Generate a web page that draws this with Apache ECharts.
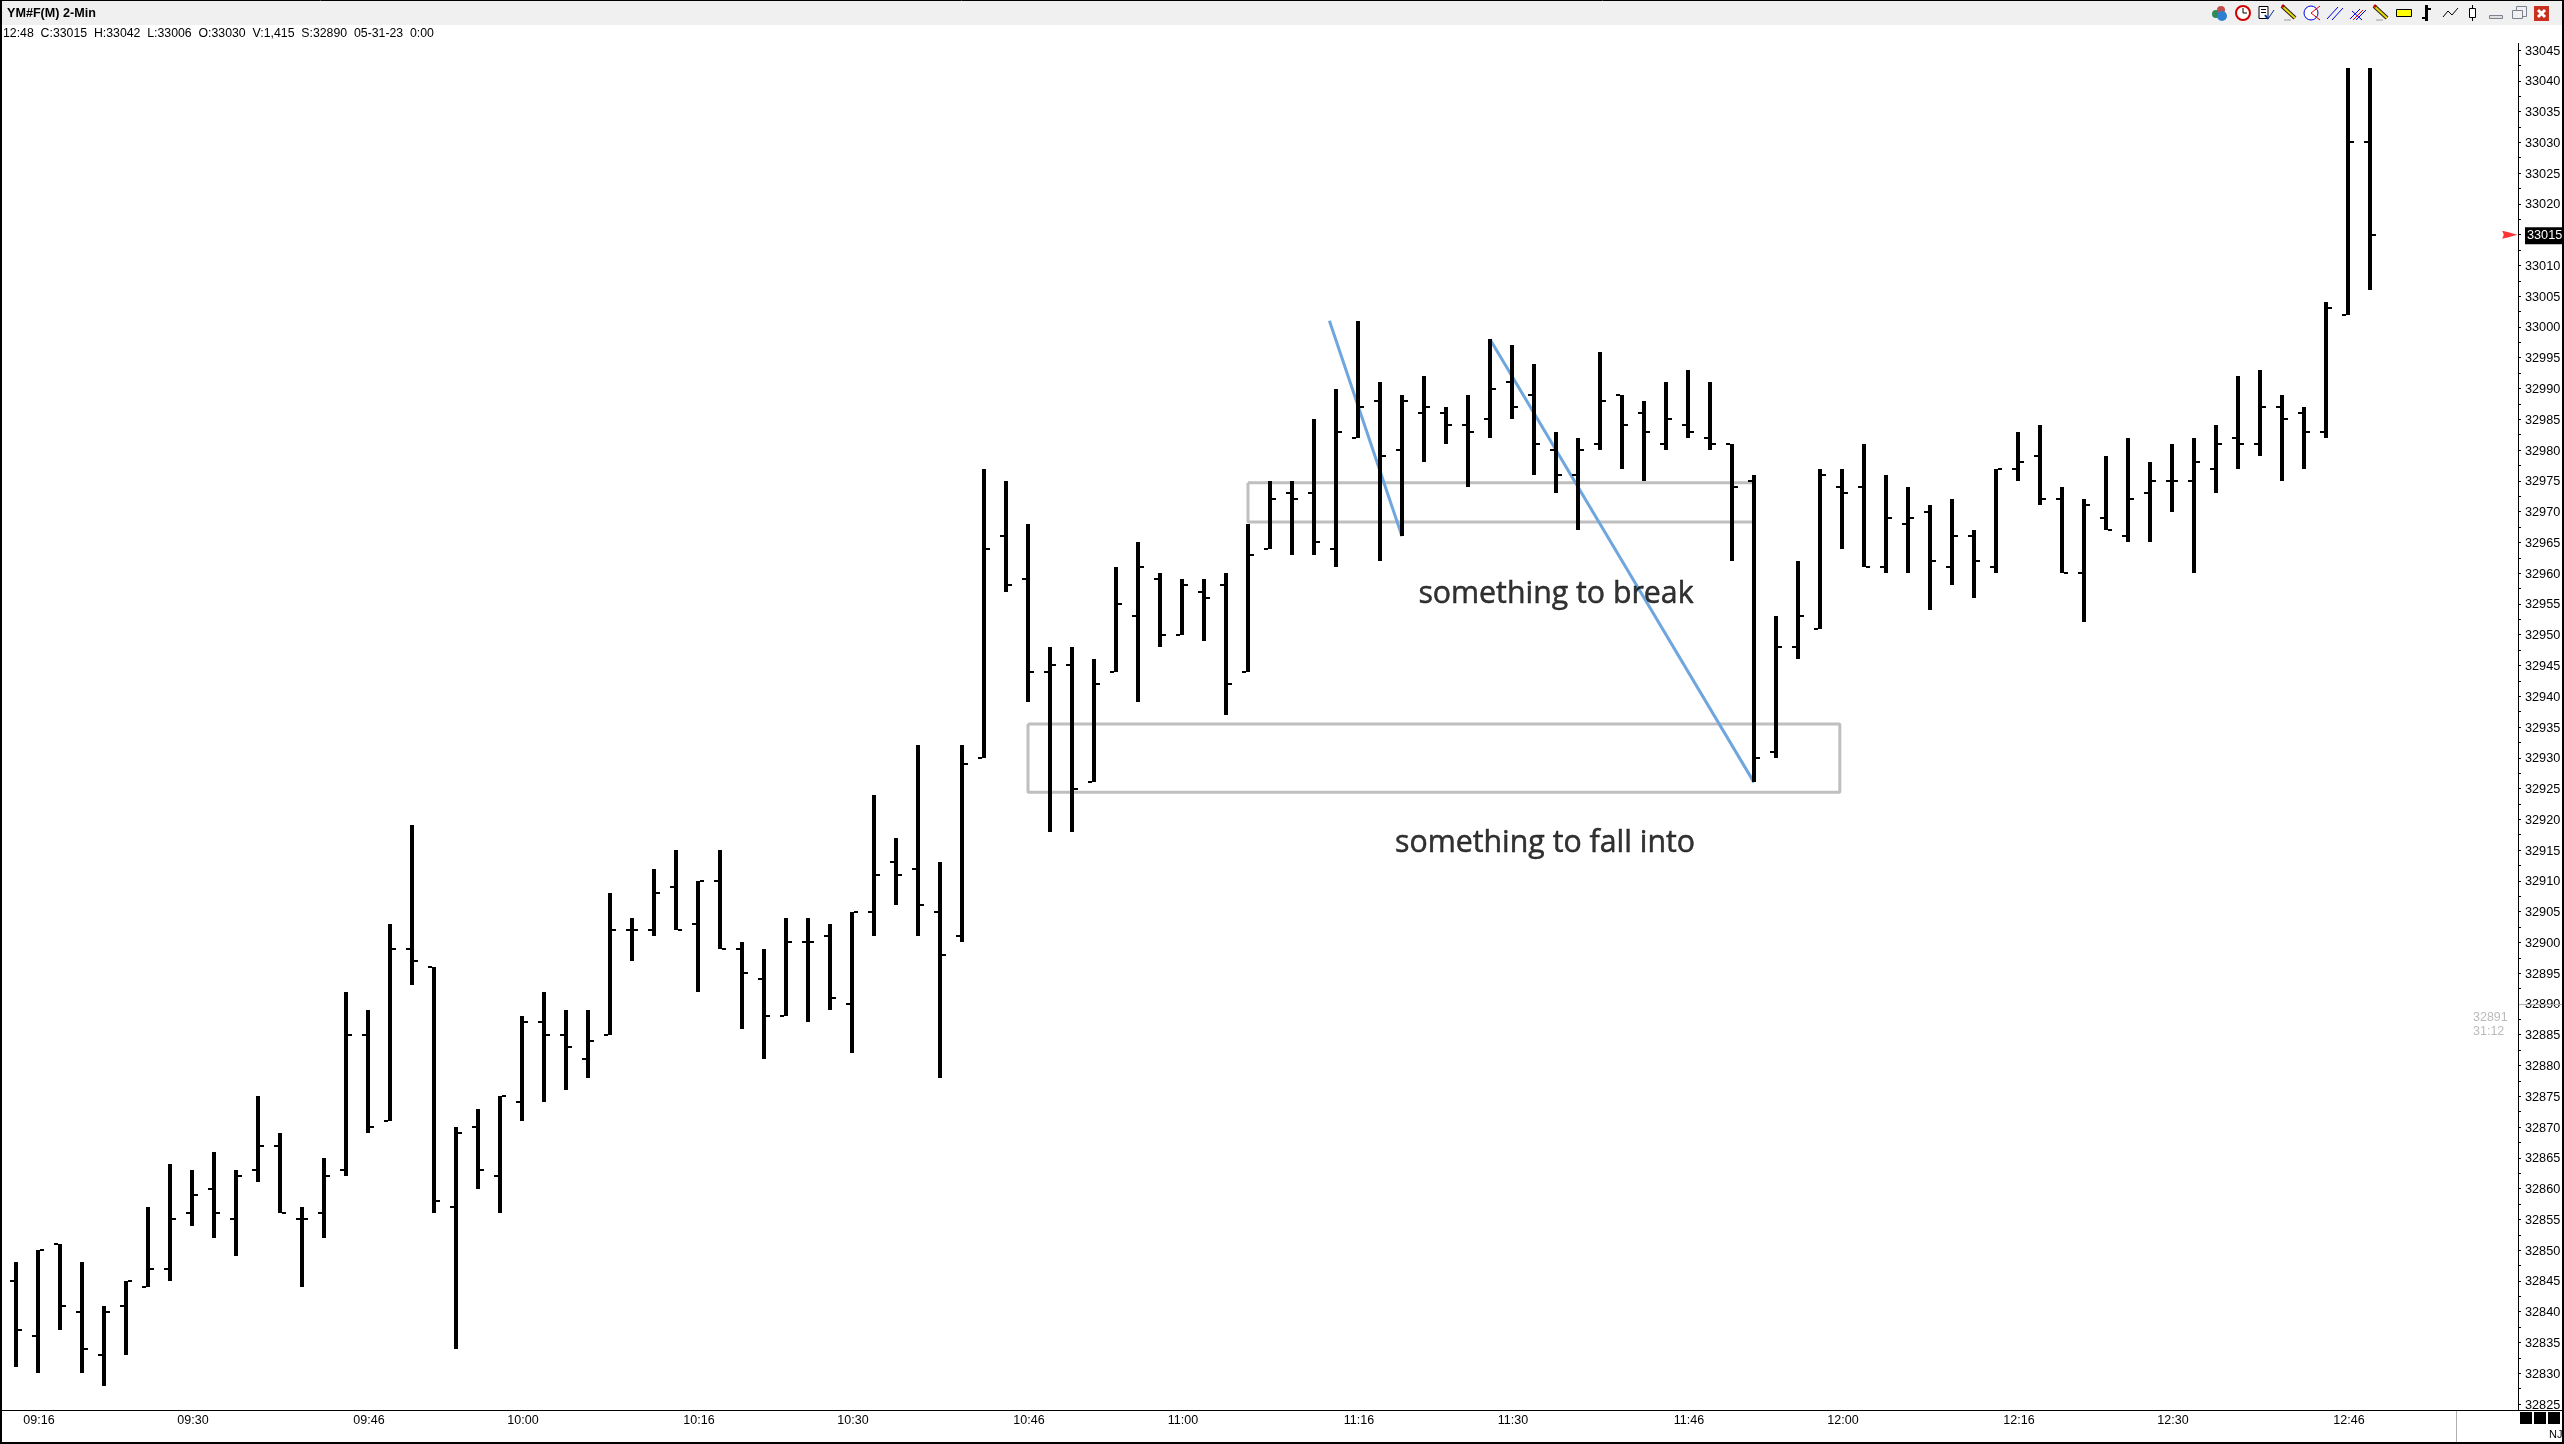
<!DOCTYPE html>
<html>
<head>
<meta charset="utf-8">
<title>YM#F(M) 2-Min</title>
<style>
  html, body { margin: 0; padding: 0; background: #fff; }
  #chart { width: 2564px; height: 1444px; }
</style>
<script src="https://cdn.jsdelivr.net/npm/echarts@6/dist/echarts.min.js"></script>
</head>
<body>
<div id="chart"></div>
<script>
// bars, 2 minute bars from 09:14 to 12:48
const opens = [32845,32836,32851,32840,32833,32841,32844,32847,32856,32860,32855,32863,32867,32855,32856,32863,32885,32871,32899,32896,32857,32870,32862,32874,32887,32885,32881,32885,32902,32902,32909,32903,32910,32899,32894,32888,32900,32901,32890,32905,32913,32912,32905,32901,32930,32966,32959,32944,32945,32926,32944,32953,32959,32950,32957,32958,32944,32964,32973,32973,32964,32982,32988,32980,32986,32986,32984,32985,32991,32989,32980,32976,32981,32989,32986,32981,32984,32982,32981,32975,32931,32948,32951,32974,32974,32961,32968,32970,32961,32966,32961,32977,32979,32972,32960,32969,32966,32973,32975,32975,32977,32982,32981,32987,32986,32983,33002,33030];
const highs = [32848,32850,32851,32848,32841,32845,32857,32864,32863,32866,32863,32875,32869,32857,32865,32892,32889,32903,32919,32896,32870,32873,32875,32888,32892,32889,32889,32908,32904,32912,32915,32910,32915,32900,32899,32904,32904,32903,32905,32924,32917,32932,32913,32932,32977,32975,32968,32948,32948,32946,32961,32965,32960,32959,32959,32960,32968,32975,32975,32985,32990,33001,32991,32989,32992,32987,32989,32998,32997,32994,32983,32982,32996,32989,32988,32991,32993,32991,32981,32976,32953,32962,32977,32977,32981,32976,32974,32971,32972,32967,32977,32983,32984,32974,32972,32979,32982,32978,32981,32982,32984,32992,32993,32989,32987,33004,33042,33042];
const lows = [32831,32830,32837,32830,32828,32833,32844,32845,32854,32852,32849,32861,32856,32844,32852,32862,32869,32871,32893,32856,32834,32860,32856,32871,32874,32876,32878,32885,32897,32901,32902,32892,32899,32886,32881,32888,32887,32889,32882,32901,32906,32901,32878,32900,32930,32957,32939,32918,32918,32926,32944,32939,32948,32950,32949,32937,32944,32964,32963,32963,32961,32982,32962,32966,32978,32981,32974,32982,32985,32976,32973,32967,32980,32977,32975,32980,32982,32980,32962,32926,32930,32946,32951,32964,32961,32960,32960,32954,32958,32956,32960,32975,32971,32960,32952,32967,32965,32965,32970,32960,32973,32977,32979,32975,32977,32982,33002,33006];
const closes = [32837,32850,32841,32834,32840,32845,32847,32855,32859,32856,32862,32867,32856,32855,32862,32885,32870,32899,32897,32858,32869,32863,32875,32887,32885,32883,32884,32902,32902,32908,32902,32910,32899,32895,32888,32900,32900,32891,32905,32911,32911,32906,32898,32929,32964,32958,32944,32945,32925,32942,32955,32961,32950,32958,32956,32942,32963,32972,32972,32965,32983,32987,32979,32988,32987,32984,32983,32990,32987,32981,32976,32980,32988,32984,32983,32985,32983,32981,32974,32930,32948,32953,32976,32973,32961,32969,32969,32962,32966,32962,32977,32978,32972,32960,32971,32967,32972,32975,32975,32978,32981,32981,32987,32985,32983,33003,33030,33015];

// labelled times on the bottom axis
const timeLabels = ['09:16','09:30','09:46','10:00','10:16','10:30','10:46','11:00','11:16','11:30','11:46','12:00','12:16','12:30','12:46'];

// the drawn boxes and trend lines, in [bar number, price]
const breakBox = [[56,32974.7],[79,32974.7],[79,32968.3],[56,32968.3],[56,32974.7]];
const fallBox = [[46,32935.5],[82.9,32935.5],[82.9,32924.4],[46,32924.4],[46,32935.5]];
const firstLine = [[59.7,33001],[63,32966]];
const secondLine = [[67,32998],[79,32926]];
const notes = [
  { name: 'something to break', value: [70, 32956.6] },
  { name: 'something to fall into', value: [69.5, 32916.1] }
];
const lastPrice = 33015;
const settlePrice = 32890;

// 6 empty slots keep the price scale clear of the last bar
const times = [];
for (let i = 0; i < 114; i++) {
  const m = 9 * 60 + 14 + i * 2;
  times.push(i < 108 ? String(Math.floor(m / 60)).padStart(2, '0') + ':' + String(m % 60).padStart(2, '0') : '');
}
const bars = opens.map((o, i) => [i, o, highs[i], lows[i], closes[i]]);

const uiFont = '"Liberation Sans", Arial, sans-serif';

function drawBar(params, api) {
  const x = Math.round(api.coord([api.value(0), 0])[0]);
  const yO = Math.round(api.coord([0, api.value(1)])[1]);
  const yH = Math.round(api.coord([0, api.value(2)])[1]);
  const yL = Math.round(api.coord([0, api.value(3)])[1]);
  const yC = Math.round(api.coord([0, api.value(4)])[1]);
  const style = { fill: '#000' };
  return {
    type: 'group',
    children: [
      { type: 'rect', shape: { x: x - 2, y: yH, width: 4, height: yL - yH }, style },
      { type: 'rect', shape: { x: x - 6, y: yO - 1, width: 4, height: 2 }, style },
      { type: 'rect', shape: { x: x + 2, y: yC - 1, width: 4, height: 2 }, style }
    ]
  };
}

function lineSeries(name, data, color) {
  return {
    name, type: 'line', data, xAxisIndex: 1, yAxisIndex: 0,
    symbol: 'none', silent: true, z: 1, animation: false,
    lineStyle: { color, width: 3 }
  };
}

// toolbar icons, the window chrome is not data
function seg(x1, y1, x2, y2, stroke, lineWidth) {
  return { type: 'line', shape: { x1, y1, x2, y2 }, style: { stroke, lineWidth: lineWidth || 1 }, z: 20, silent: true };
}
function box(x, y, width, height, fill, stroke) {
  return { type: 'rect', shape: { x, y, width, height }, style: { fill, stroke: stroke || null }, z: 20, silent: true };
}
function dot(cx, cy, r, fill, stroke, lineWidth) {
  return { type: 'circle', shape: { cx, cy, r }, style: { fill, stroke: stroke || null, lineWidth: lineWidth || 1 }, z: 20, silent: true };
}
function pencil(x) {
  return [
    seg(x + 1, 6, x + 14, 18, '#222', 4),
    seg(x + 1, 6, x + 14, 18, '#e8d800', 2),
    dot(x + 2, 6, 1.6, '#c00000'),
    seg(x + 3, 20, x + 10, 20, '#999', 1)
  ];
}

const chrome = [
  Object.assign(box(0, 0, 2564, 25, '#f0f0f0'), { z: 0 }),
  seg(0, 0.5, 2564, 0.5, '#000', 1),
  box(0, 0, 2, 1444, '#000'),
  box(2562, 0, 2, 1444, '#000'),
  box(0, 1442, 2564, 2, '#000'),
  seg(0, 1410.5, 2564, 1410.5, '#000', 1),
  seg(2518.5, 43, 2518.5, 1410, '#000', 1),
  seg(2456.5, 1411, 2456.5, 1442, '#b0b0b0', 1),
  box(2520, 1412, 12, 12, '#000'),
  box(2534, 1412, 12, 12, '#000'),
  box(2548, 1412, 12, 12, '#000'),
  seg(2519, 1004.5, 2562, 1004.5, '#b0b0b0', 1),
  { type: 'text', silent: true, z: 20, style: { x: 2549, y: 1429, text: 'NJ', fill: '#000', font: '11px ' + uiFont } },
  { type: 'text', silent: true, z: 20, style: { x: 2473, y: 1011, text: '32891', fill: '#bbb', font: '12.5px ' + uiFont } },
  { type: 'text', silent: true, z: 20, style: { x: 2473, y: 1025, text: '31:12', fill: '#bbb', font: '12.5px ' + uiFont } },
  // cubes
  dot(2216, 14, 4, '#2e8b57'), dot(2221, 10, 4, '#c0504d'), dot(2222, 16, 5, '#2e7fd0'),
  // clock
  dot(2243, 13, 7, '#fff', '#d00000', 2), seg(2243, 13, 2243, 8, '#000'), seg(2243, 13, 2247, 13, '#000'),
  // checklist
  box(2259, 6.5, 9, 12, '#fff', '#000'), seg(2261, 9.5, 2266, 9.5, '#000'), seg(2261, 12.5, 2266, 12.5, '#000'),
  seg(2265, 15, 2268, 19, '#003399', 2), seg(2268, 19, 2274, 10, '#003399', 1),
  ...pencil(2281),
  // circle and wedge
  dot(2311, 13, 7, '#fff', '#0000e0', 1), seg(2311, 13, 2320, 6, '#e00000'), seg(2311, 13, 2320, 20, '#e00000'),
  // parallel lines
  seg(2327, 19, 2338, 7, '#0000e0'), seg(2332, 20, 2343, 8, '#0000e0'),
  // fork
  seg(2350, 19, 2360, 9, '#0000e0'), seg(2353, 20, 2363, 10, '#e00000'), seg(2356, 20, 2366, 10, '#0000e0'), seg(2352, 11, 2362, 20, '#0000e0'),
  ...pencil(2373),
  box(2396.5, 9.5, 15, 7, '#ffff00', '#000'),
  // bar, line and candle buttons
  box(2425, 5, 3, 16, '#000'), box(2422, 17, 3, 2, '#000'), box(2428, 8, 3, 2, '#000'),
  seg(2443, 17, 2448, 11, '#000'), seg(2448, 11, 2452, 15, '#000'), seg(2452, 15, 2458, 8, '#000'),
  seg(2472.5, 5, 2472.5, 21, '#000'), box(2469.5, 8.5, 6, 9, '#fff', '#000'),
  box(2489.5, 15.5, 13, 3, '#e0e0e0', '#7a8290'),
  box(2516.5, 6.5, 10, 10, 'none', '#7a8290'), box(2512.5, 10.5, 10, 8, '#f0f0f0', '#7a8290'),
  box(2534, 6, 15, 15, '#c83020'), seg(2538, 10, 2545, 17, '#fff', 3), seg(2545, 10, 2538, 17, '#fff', 3)
];

const chart = echarts.init(document.getElementById('chart'));

chart.setOption({
  animation: false,
  backgroundColor: '#fff',
  title: [
    {
      text: 'YM#F(M) 2-Min',
      left: 7,
      top: 7,
      padding: 0,
      textStyle: { fontFamily: uiFont, fontSize: 12.6, fontWeight: 'bold', color: '#000' }
    },
    {
      text: '12:48  C:33015  H:33042  L:33006  O:33030  V:1,415  S:32890  05-31-23  0:00',
      left: 3,
      top: 28,
      padding: 0,
      textStyle: { fontFamily: uiFont, fontSize: 12.3, fontWeight: 'normal', color: '#000' }
    }
  ],
  // labels sit right at the window edge, do not let the grid shrink for them
  grid: { left: 5, right: 51, top: 50, bottom: 40, outerBoundsMode: 'none' },
  xAxis: [
    {
      type: 'category',
      data: times,
      offset: 6,
      axisLine: { lineStyle: { color: '#000', width: 1 } },
      axisTick: {
        alignWithLabel: true, length: 3,
        interval: (i, name) => timeLabels.includes(name),
        lineStyle: { color: '#000' }
      },
      axisLabel: {
        interval: (i, name) => timeLabels.includes(name),
        color: '#000', fontFamily: uiFont, fontSize: 12.5, margin: 4,
        padding: [0, 0, 0, 2]
      },
      splitLine: { show: false }
    },
    // same width as the category axis, used by the drawn lines and notes
    { type: 'value', min: -0.5, max: 113.5, show: false }
  ],
  yAxis: {
    type: 'value',
    position: 'right',
    offset: 5,
    min: 32825,
    max: 33045,
    interval: 5,
    axisLine: { show: true, onZero: false, lineStyle: { color: '#000', width: 1 } },
    axisTick: { show: true, length: 3, lineStyle: { color: '#000' } },
    minorTick: { show: true, splitNumber: 2, length: 3, lineStyle: { color: '#000' } },
    splitLine: { show: false },
    axisLabel: {
      color: '#000', fontFamily: uiFont, fontSize: 12.7, margin: 7,
      padding: [2, 0, 0, 0],
      showMinLabel: true, showMaxLabel: true,
      formatter: v => (v === lastPrice ? '{cur|' + v + '}' : String(v)),
      rich: {
        cur: {
          color: '#fff', backgroundColor: '#000', fontFamily: uiFont, fontSize: 12.7,
          padding: [2, 1, 2, 2]
        }
      }
    }
  },
  series: [
    lineSeries('Zone to break', breakBox, '#bfbfbf'),
    lineSeries('Zone to fall into', fallBox, '#bfbfbf'),
    lineSeries('Trend 1', firstLine, '#6fa6dd'),
    lineSeries('Trend 2', secondLine, '#6fa6dd'),
    {
      name: 'YM#F(M)',
      type: 'custom',
      renderItem: drawBar,
      data: bars,
      encode: { x: 0, y: [1, 2, 3, 4] },
      xAxisIndex: 0,
      z: 3,
      clip: false
    },
    {
      name: 'Notes',
      type: 'scatter',
      data: notes,
      xAxisIndex: 1,
      symbolSize: 0,
      silent: true,
      z: 4,
      label: {
        show: true,
        position: 'inside',
        formatter: '{b}',
        color: '#000',
        fontFamily: '"Open Sans"',
        fontSize: 30.3,
        textBorderColor: '#000',
        textBorderWidth: 0.5
      }
    },
    {
      name: 'Last price',
      type: 'scatter',
      data: [[113.35, lastPrice]],
      xAxisIndex: 1,
      symbol: 'path://M0,0 L6,1.5 L14,4 L6,6.5 L0,8 L1.5,4 Z',
      symbolSize: [15, 8],
      silent: true,
      itemStyle: { color: '#ff0000' }
    }
  ],
  graphic: chrome
});

window.addEventListener('resize', () => chart.resize());
</script>
</body>
</html>
